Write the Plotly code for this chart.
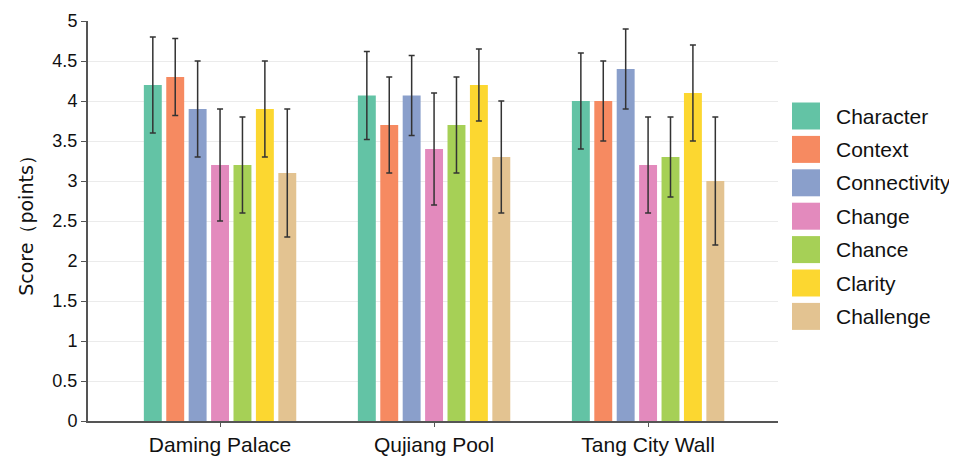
import plotly.graph_objects as go

# Data
sites = ["Daming Palace", "Qujiang Pool", "Tang City Wall"]
dimensions = ["Character", "Context", "Connectivity", "Change", "Chance", "Clarity", "Challenge"]

character = [4.2, 4.07, 4.0]
context = [4.3, 3.7, 4.0]
connectivity = [3.9, 4.07, 4.4]
change = [3.2, 3.4, 3.2]
chance = [3.2, 3.7, 3.3]
clarity = [3.9, 4.2, 4.1]
challenge = [3.1, 3.3, 3.0]

character_err = [0.6, 0.55, 0.6]
context_err = [0.48, 0.6, 0.5]
connectivity_err = [0.6, 0.5, 0.5]
change_err = [0.7, 0.7, 0.6]
chance_err = [0.6, 0.6, 0.5]
clarity_err = [0.6, 0.45, 0.6]
challenge_err = [0.8, 0.7, 0.8]

y_ticks = [0, 0.5, 1, 1.5, 2, 2.5, 3, 3.5, 4, 4.5, 5]

colors = ["#63c3a5", "#f68a61", "#8a9fcb", "#e38abd", "#a6d056", "#fcd730", "#e3c391"]

series = [character, context, connectivity, change, chance, clarity, challenge]
errors = [character_err, context_err, connectivity_err, change_err,
          chance_err, clarity_err, challenge_err]

fig = go.Figure()

for name, vals, err, col in zip(dimensions, series, errors, colors):
    fig.add_trace(
        go.Bar(
            x=sites,
            y=vals,
            name=name,
            marker=dict(color=col, line=dict(width=0)),
            error_y=dict(
                type="data",
                array=err,
                visible=True,
                color="#333333",
                thickness=1.5,
                width=3,
            ),
            showlegend=False,
        )
    )

# page body adds an 8px offset, so the figure is laid out 8px smaller
W, H = 949, 448
plot_l, plot_r, plot_t, plot_b = 80, 770, 13, 413
pw, ph = plot_r - plot_l, plot_b - plot_t

# Legend drawn by hand: large swatches like the original
for i, (name, col) in enumerate(zip(dimensions, colors)):
    cy = 108 + i * 33.4
    fig.add_shape(
        type="rect",
        xref="paper", yref="paper",
        x0=(784 - plot_l) / pw, x1=(812 - plot_l) / pw,
        y0=(plot_b - (cy + 13.5)) / ph,
        y1=(plot_b - (cy - 13.5)) / ph,
        fillcolor=col, line=dict(width=0), layer="above",
    )
    fig.add_annotation(
        xref="paper", yref="paper",
        x=(826 - plot_l) / pw, y=(plot_b - cy) / ph,
        text=name, showarrow=False,
        xanchor="left", yanchor="middle",
        font=dict(size=21, color="#111111"),
    )

fig.update_layout(
    width=W,
    height=H,
    barmode="group",
    bargap=0.267,
    bargroupgap=0.2,
    plot_bgcolor="white",
    paper_bgcolor="white",
    font=dict(family="Liberation Sans, Arial, sans-serif", color="#111111"),
    margin=dict(l=plot_l, r=W - plot_r, t=plot_t, b=H - plot_b, autoexpand=False),
    xaxis=dict(
        range=[-0.617, 2.607],
        showline=True,
        linecolor="#555555",
        linewidth=2,
        ticks="outside",
        ticklen=4,
        tickcolor="#555555",
        tickfont=dict(size=21),
        showgrid=False,
    ),
    yaxis=dict(
        range=[0, 5],
        tickvals=y_ticks,
        ticktext=[f"{v:g}" for v in y_ticks],
        showline=True,
        linecolor="#555555",
        linewidth=2,
        ticks="outside",
        ticklen=5,
        tickcolor="#555555",
        tickfont=dict(size=18),
        showgrid=True,
        gridcolor="#ebebeb",
        gridwidth=1,
        zeroline=False,
        title=dict(text="Score（points）", font=dict(size=19, family="DejaVu Sans"),
                   standoff=14),
    ),
)

fig.write_html("out.html")
